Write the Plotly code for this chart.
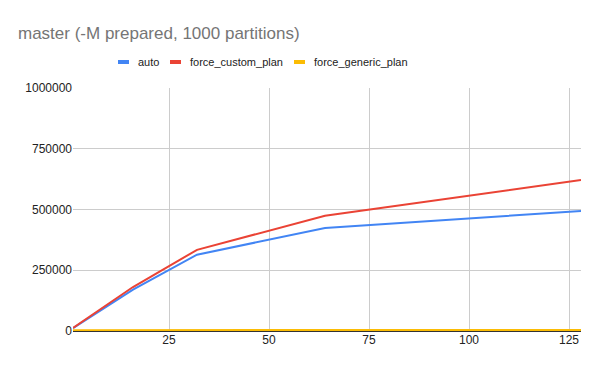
import plotly.graph_objects as go

clients = [1, 16, 32, 64, 128]
auto = [12000, 170000, 314000, 424000, 494000]
force_custom_plan = [13000, 181000, 334000, 474000, 621000]
force_generic_plan = [3500, 3800, 4000, 4000, 4000]

series_names = ["auto", "force_custom_plan", "force_generic_plan"]
series_values = [auto, force_custom_plan, force_generic_plan]
series_colors = ["#4285F4", "#EA4335", "#FBBC04"]

FONT = "Arial, Liberation Sans, sans-serif"
W, H = 600, 371
ML, MR, MT, MB = 65, 27, 80, 48
OFF = 8  # page offset
PW, PH = W - ML - MR, H - MT - MB


def px_x(X):
    return (X - OFF - ML) / PW


def px_y(Y):
    return (H - MB + OFF - Y) / PH


fig = go.Figure()
for name, vals, color in zip(series_names, series_values, series_colors):
    fig.add_trace(go.Scatter(x=clients, y=vals, mode="lines", name=name,
                             line=dict(color=color, width=2), showlegend=False))

# custom legend (short bars like the original)
legend_sym_x = [118, 170, 294]
for name, color, sx in zip(series_names, series_colors, legend_sym_x):
    fig.add_shape(type="rect", xref="paper", yref="paper",
                  x0=px_x(sx), x1=px_x(sx + 11), y0=px_y(64), y1=px_y(60),
                  fillcolor=color, line=dict(width=0))
    fig.add_annotation(text=name, xref="paper", yref="paper", x=px_x(sx + 18),
                       y=px_y(62), xanchor="left", yanchor="middle", showarrow=False,
                       font=dict(family=FONT, size=11, color="#222222"))

fig.update_layout(
    width=W, height=H,
    paper_bgcolor="white", plot_bgcolor="white",
    margin=dict(l=ML, r=MR, t=MT, b=MB),
    title=dict(text="master (-M prepared, 1000 partitions)", x=10 / W, xanchor="left",
               y=1 - 25 / H, yanchor="middle",
               font=dict(family=FONT, size=17, color="#757575")),
    showlegend=False,
    font=dict(family=FONT, size=12, color="#222222"),
)
fig.update_xaxes(range=[1, 128], tickvals=[25, 50, 75, 100, 125], showgrid=True,
                 gridcolor="#cccccc", zeroline=False, showline=False, ticks="")
fig.update_yaxes(range=[0, 1000000], tickvals=[0, 250000, 500000, 750000, 1000000],
                 tickformat="d", showgrid=True, gridcolor="#cccccc", zeroline=True,
                 zerolinecolor="#333333", zerolinewidth=1.5, ticks="")

fig.write_html("out.html")
